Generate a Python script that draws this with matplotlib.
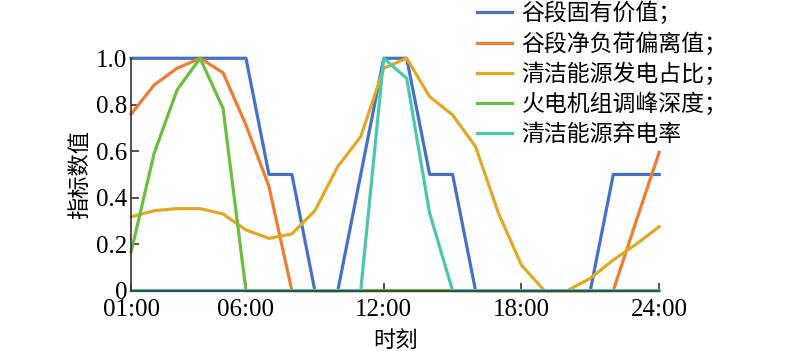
import matplotlib
matplotlib.use('Agg')
import matplotlib.pyplot as plt

hours = list(range(1, 25))
tick_hours = [1, 6, 12, 18, 24]
tick_labels = ['01:00', '06:00', '12:00', '18:00', '24:00']

names = ['谷段固有价值；', '谷段净负荷偏离值；', '清洁能源发电占比；', '火电机组调峰深度；', '清洁能源弃电率']

valley_value = [1, 1, 1, 1, 1, 1, 0.5, 0.5, 0, 0, 0.5, 1,
                1, 0.5, 0.5, 0, 0, 0, 0, 0, 0, 0.5, 0.5, 0.5]
load_deviation = [0.76, 0.885, 0.957, 1.0, 0.938, 0.713, 0.448, 0, 0, 0, 0, 0,
                  0, 0, 0, 0, 0, 0, 0, 0, 0, 0, 0.3, 0.595]
clean_share = [0.318, 0.344, 0.353, 0.353, 0.33, 0.261, 0.225, 0.244, 0.344, 0.534, 0.663, 0.957,
               1.0, 0.835, 0.756, 0.62, 0.333, 0.11, 0, 0, 0.053, 0.132, 0.2, 0.275]
thermal_depth = [0.168, 0.591, 0.864, 1.0, 0.785, 0, 0, 0, 0, 0, 0, 0,
                 0, 0, 0, 0, 0, 0, 0, 0, 0, 0, 0, 0]
curtail_rate = [0, 0, 0, 0, 0, 0, 0, 0, 0, 0, 0, 1.0,
                0.914, 0.333, 0, 0, 0, 0, 0, 0, 0, 0, 0, 0]

series = [valley_value, load_deviation, clean_share, thermal_depth, curtail_rate]
colors = ['#4472C4', '#ED7D31', '#E3A823', '#6BBF3E', '#4CC7AE']

cjk = ['Noto Sans CJK SC', 'DejaVu Sans']
num_font = 'Liberation Serif'

fig = plt.figure(figsize=(8, 3.51), dpi=100)
ax = fig.add_axes([0.164, 0.172, 0.66, 0.662])

for vals, name, c in zip(series, names, colors):
    ax.plot(hours, vals, color=c, lw=2.3, label=name, clip_on=False)

ax.set_xlim(1, 24)
ax.set_ylim(0, 1)
ax.set_xticks(tick_hours)
ax.set_xticklabels(tick_labels, fontfamily=num_font, fontsize=18)
ax.set_yticks([0, 0.2, 0.4, 0.6, 0.8, 1.0])
ax.set_yticklabels(['0', '0.2', '0.4', '0.6', '0.8', '1.0'], fontfamily=num_font, fontsize=18)
ax.tick_params(direction='in', length=6, width=1.2, color='#333333')
ax.tick_params(axis='x', pad=6)
ax.tick_params(axis='y', pad=3)
for s in ['top', 'right']:
    ax.spines[s].set_visible(False)
for s in ['left', 'bottom']:
    ax.spines[s].set_linewidth(1.2)
    ax.spines[s].set_color('#333333')

ax.set_xlabel('时刻', fontfamily=cjk, fontsize=16, labelpad=6)
ax.set_ylabel('指标数值', fontfamily=cjk, fontsize=16, labelpad=3)

fig.legend(loc='upper left', bbox_to_anchor=(0.596, 0.995), frameon=False,
           prop={'family': cjk, 'size': 16.5}, borderpad=0, labelspacing=0.3,
           handlelength=1.55, handletextpad=0.4, borderaxespad=0)

fig.savefig('out.png', dpi=100)
